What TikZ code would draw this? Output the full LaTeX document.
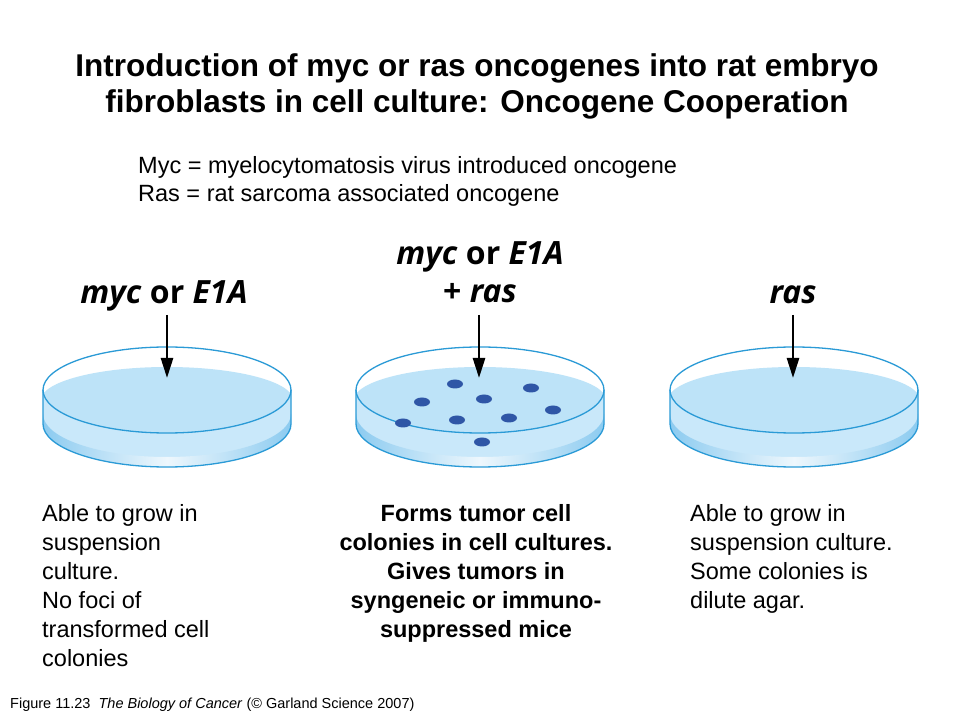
\documentclass[tikz,border=0pt]{standalone}
\usepackage{fontspec}
\setmainfont{Liberation Sans}
\newfontfamily\dishfont{Open Sans}
\usetikzlibrary{arrows.meta}
\definecolor{rim}{HTML}{2A9AD6}
\definecolor{liquid}{HTML}{BDE3F8}
\definecolor{sidec}{HTML}{C9E8FA}
\definecolor{bandc}{HTML}{8CCBF0}
\definecolor{dotc}{HTML}{2F56A6}
\tikzset{
  x=1pt,y=1pt,
  dishlab/.style={font=\dishfont\bfseries\fontsize{32}{38}\selectfont, inner sep=0pt, anchor=base},
  geneline/.style={-{Triangle[length=20pt,width=12pt]}, line width=2.6pt, black},
  colony/.style={fill=dotc, draw=none},
  bodytext/.style={font=\fontsize{23.5}{29}\selectfont, inner sep=0pt, align=left, anchor=north west},
  pics/petri/.style={code={
    % side wall
    \fill[sidec] (-124,0) -- (-124,-34) arc[start angle=180,end angle=360,x radius=124,y radius=43] -- (124,0) arc[start angle=0,end angle=-180,x radius=124,y radius=43] -- cycle;
    % lower band
    \shade[left color=bandc, right color=bandc, middle color=white!85!bandc] (-124,-24) -- (-124,-34) arc[start angle=180,end angle=360,x radius=124,y radius=43] -- (124,-24) arc[start angle=0,end angle=-180,x radius=124,y radius=43] -- cycle;
    % liquid surface
    \begin{scope}
      \clip (0,0) ellipse[x radius=124,y radius=43];
      \fill[liquid] (0,-10) ellipse[x radius=126,y radius=33];
      \fill[liquid] (-126,-10) rectangle (126,-60);
    \end{scope}
    % outlines
    \draw[rim, line width=1.3pt] (0,0) ellipse[x radius=124,y radius=43];
    \draw[rim, line width=1.3pt] (-124,0) -- (-124,-34) arc[start angle=180,end angle=360,x radius=124,y radius=43] -- (124,0);
  }}
}
\begin{document}
\begin{tikzpicture}
\useasboundingbox (0,0) rectangle (960,720);
\fill[white] (0,0) rectangle (960,720);

% title
\node[font=\bfseries\fontsize{31.5}{36}\selectfont, align=center, inner sep=0pt, anchor=base] (title) at (477,607) {Introduction of myc or ras oncogenes into rat embryo\\fibroblasts in cell culture: Oncogene Cooperation};
\node[font=\fontsize{23.5}{28}\selectfont, align=left, inner sep=0pt, anchor=north west] (defs) at (138,564) {Myc = myelocytomatosis virus introduced oncogene\\Ras = rat sarcoma associated oncogene};

% dishes
\pic (d1) at (167,330) {petri};
\pic (d2) at (480,330) {petri};
\pic (d3) at (794,330) {petri};

% colonies
\foreach \px/\py [count=\i] in {455/384, 531/388, 422/402, 484/399, 553/410, 457/420, 509/418, 403/423, 482/442}
  \fill[colony] (\px,720-\py) ellipse[x radius=8,y radius=4.5] node[coordinate] (col\i) {};

% labels
\node[dishlab] (lab1) at (164,416) {\itshape myc\/ \upshape or \itshape E1A};
\node[dishlab] (lab2a) at (480,455) {\itshape myc\/ \upshape or \itshape E1A};
\node[dishlab] (lab2b) at (480,417) {\upshape + \itshape ras};
\node[dishlab] (lab3) at (793,416) {\itshape ras};

% arrows
\coordinate (a1s) at (167,405); \coordinate (a1e) at (167,342);
\coordinate (a2s) at (479,405); \coordinate (a2e) at (479,342);
\coordinate (a3s) at (793,405); \coordinate (a3e) at (793,342);
\draw[geneline] (a1s) -- (a1e);
\draw[geneline] (a2s) -- (a2e);
\draw[geneline] (a3s) -- (a3e);

% descriptions
\node[bodytext] (t1) at (42,216) {Able to grow in\\suspension\\culture.\\No foci of\\transformed cell\\colonies};
\node[font=\bfseries\fontsize{23.5}{29}\selectfont, inner sep=0pt, align=center, anchor=north] (t2) at (476,216) {Forms tumor cell\\colonies in cell cultures.\\Gives tumors in\\syngeneic or immuno-\\suppressed mice};
\node[bodytext] (t3) at (690,216) {Able to grow in\\suspension culture.\\Some colonies is\\dilute agar.};

% footer
\node[font=\fontsize{14.5}{16}\selectfont, inner sep=0pt, anchor=base west] (foot) at (10,12) {Figure 11.23\ \ \textit{The Biology of Cancer} (\copyright\ Garland Science 2007)};
\end{tikzpicture}
\end{document}
